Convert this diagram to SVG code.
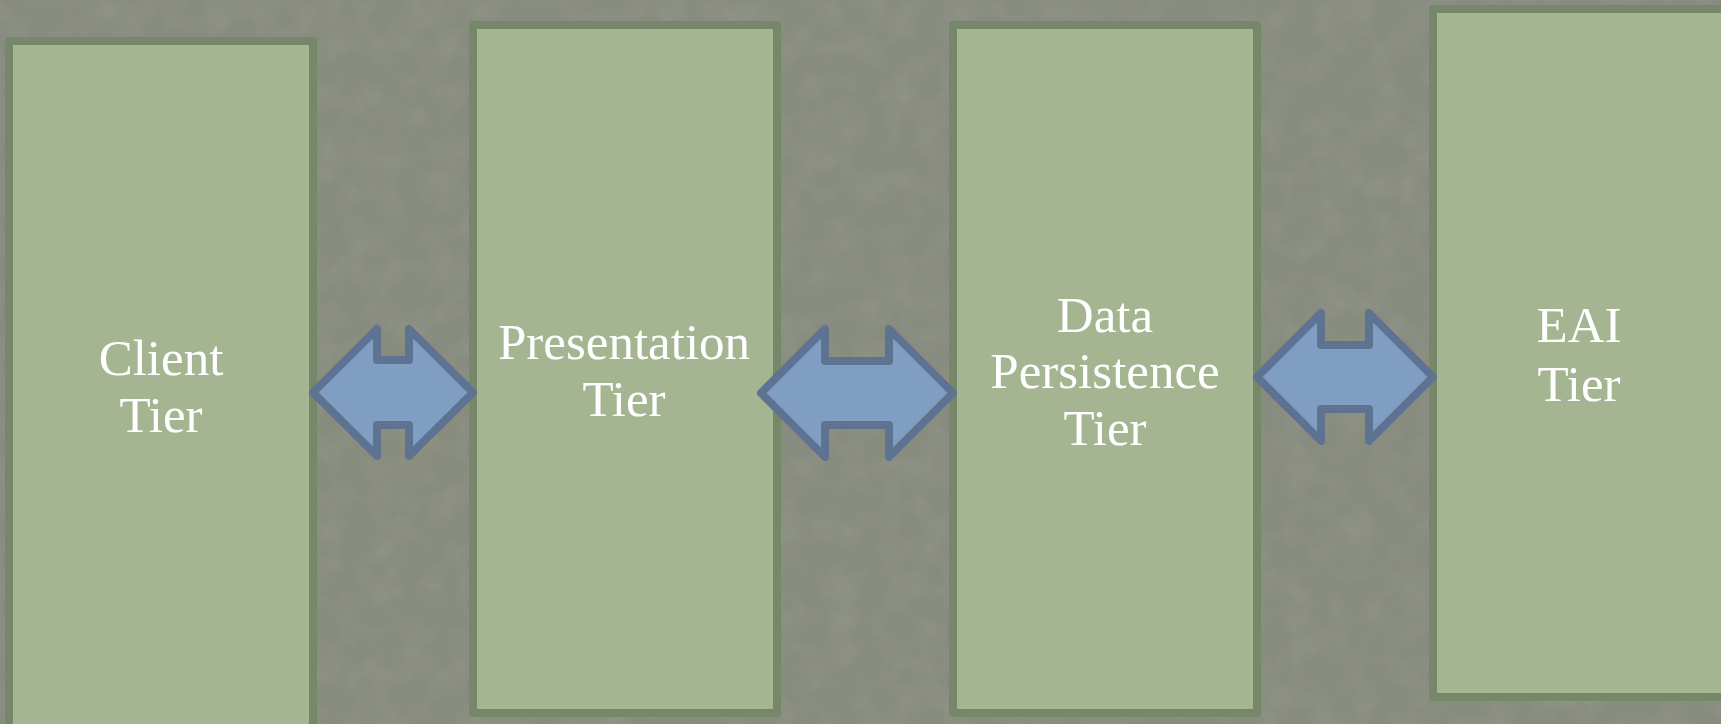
<svg xmlns="http://www.w3.org/2000/svg" width="1721" height="724" viewBox="0 0 1721 724">
  <defs>
    <filter id="tex" x="0" y="0" width="100%" height="100%">
      <feTurbulence type="fractalNoise" baseFrequency="0.035" numOctaves="4" seed="7" result="n"/>
      <feColorMatrix in="n" type="matrix" values="0 0 0 0 0.35  0 0 0 0 0.37  0 0 0 0 0.32  0 0 0 -1.6 1.0" result="c"/>
      <feComposite in="c" in2="SourceGraphic" operator="in"/>
    </filter>
    <style>
      .box { fill: #a6b591; stroke: #77876a; stroke-width: 8; stroke-linejoin: round; }
      .arrow { fill: #7f9ec2; stroke: #5e7391; stroke-width: 8; stroke-linejoin: round; }
      .lbl { font-family: "Liberation Serif", "DejaVu Serif", serif; font-size: 51px; fill: #ffffff; text-anchor: middle; }
    </style>
  </defs>
  <rect id="background" x="0" y="0" width="1721" height="724" fill="#888c7e"/>
  <rect x="0" y="0" width="1721" height="724" fill="#888c7e" filter="url(#tex)" opacity="0.35"/>

  <g id="client-tier">
    <rect class="box" x="9" y="41" width="304" height="700"/>
    <text class="lbl" x="161" y="375">Client</text>
    <text class="lbl" x="161" y="432">Tier</text>
  </g>
  <g id="presentation-tier">
    <rect class="box" x="473" y="25" width="304" height="688"/>
    <text class="lbl" x="624" y="359">Presentation</text>
    <text class="lbl" x="624" y="416">Tier</text>
  </g>
  <g id="data-persistence-tier">
    <rect class="box" x="953" y="25" width="304" height="688"/>
    <text class="lbl" x="1105" y="332">Data</text>
    <text class="lbl" x="1105" y="388">Persistence</text>
    <text class="lbl" x="1105" y="445">Tier</text>
  </g>
  <g id="eai-tier">
    <rect class="box" x="1433" y="9" width="300" height="688"/>
    <text class="lbl" x="1579" y="342">EAI</text>
    <text class="lbl" x="1579" y="401">Tier</text>
  </g>

  <g id="connectors">
    <polygon class="arrow" points="313,392.5 377,329 377,360 409,360 409,329 473,392.5 409,456 409,425 377,425 377,456"/>
    <polygon class="arrow" points="761,393 825,329 825,361 889,361 889,329 953,393 889,457 889,425 825,425 825,457"/>
    <polygon class="arrow" points="1257,377 1321,313 1321,345 1369,345 1369,313 1433,377 1369,441 1369,409 1321,409 1321,441"/>
  </g>
</svg>
